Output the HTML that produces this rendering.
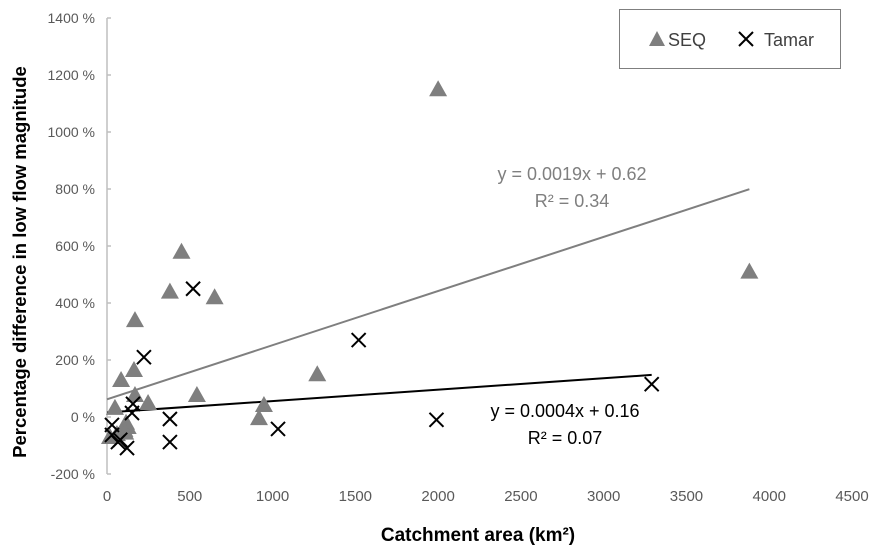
<!DOCTYPE html>
<html><head><meta charset="utf-8"><style>
body{margin:0;background:#fff;}
svg text{font-family:"Liberation Sans",sans-serif;}
</style></head><body>
<svg id="c" width="879" height="553" xmlns="http://www.w3.org/2000/svg"></svg>
<script>
const xTicks=[0,500,1000,1500,2000,2500,3000,3500,4000,4500];
const yTicks=[-200,0,200,400,600,800,1000,1200,1400];
const seqX=[2000,3880,450,380,650,169,163,85,169,248,543,948,918,48,115,125,105,110,18,60,1270];
const seqY=[1150,510,580,440,420,340,165,130,77,49,77,42,-4,32,-20,-35,-45,-55,-70,-60,150];
const tamX=[223,380,380,1033,157,151,30,30,66,121,520,1520,1990,3290,80];
const tamY=[210,-7,-88,-42,46,14,-28,-63,-88,-109,450,270,-10,115,-80];
const seqFit=[0.19,62,0,3880];
const tamFit=[0.04,16,0,3290];
const X=v=>107+v*0.16556, Y=v=>417-v*0.285;
const svg=document.getElementById('c'),NS='http://www.w3.org/2000/svg';
function mk(t,a,txt){const e=document.createElementNS(NS,t);for(const k in a)e.setAttribute(k,a[k]);if(txt!=null)e.textContent=txt;svg.appendChild(e);return e;}
let e=mk('line',{x1:107,y1:Y(1400),x2:107,y2:Y(-200),stroke:'#bfbfbf','stroke-width':1.5});


yTicks.forEach(v=>{
 let t=mk('line',{x1:107,y1:Y(v),x2:111,y2:Y(v),stroke:'#bfbfbf','stroke-width':1.5});
 
 
 let l=mk('text',{x:95,y:Y(v)+5,'text-anchor':'end','font-size':14,fill:'#595959'},v+' %');
 
 
});
xTicks.forEach(v=>{
 let l=mk('text',{x:X(v),y:501,'text-anchor':'middle','font-size':15,fill:'#595959'},String(v));
 
 
});
function fit(f,col,name){let l=mk('line',{x1:X(f[2]),y1:Y(f[1]+f[0]*f[2]),x2:X(f[3]),y2:Y(f[1]+f[0]*f[3]),stroke:col,'stroke-width':2});
 
 }
fit(seqFit,'#7f7f7f','seq-trendline');
fit(tamFit,'#000','tamar-trendline');
seqX.forEach((v,i)=>{const x=X(v),y=Y(seqY[i]);
 let p=mk('polygon',{points:`${x},${y-9} ${x-9},${y+7} ${x+9},${y+7}`,fill:'#7f7f7f'});
 
 });
tamX.forEach((v,i)=>{const x=X(v),y=Y(tamY[i]);
 let p=mk('path',{d:`M${x-7},${y-7}L${x+7},${y+7}M${x+7},${y-7}L${x-7},${y+7}`,stroke:'#000','stroke-width':2,fill:'none'});
 
 });
</script>
<svg style="position:absolute;left:0;top:0" width="879" height="553">
<g>
<rect x="619.5" y="9.5" width="221" height="59" fill="#fff" stroke="#7f7f7f"/>
<polygon points="657,31 649,46 665,46" fill="#7f7f7f"/>
<text x="668" y="46" font-size="18" fill="#404040">SEQ</text>
<path d="M739,32L753,46M753,32L739,46" stroke="#000" stroke-width="2"/>
<text x="764" y="46" font-size="18" fill="#404040">Tamar</text>
</g>
<text x="572" y="180" text-anchor="middle" font-size="18" fill="#7f7f7f">y = 0.0019x + 0.62</text>
<text x="572" y="207" text-anchor="middle" font-size="18" fill="#7f7f7f">R² = 0.34</text>
<text x="565" y="417" text-anchor="middle" font-size="18" fill="#000">y = 0.0004x + 0.16</text>
<text x="565" y="444" text-anchor="middle" font-size="18" fill="#000">R² = 0.07</text>
<text x="478" y="541" text-anchor="middle" font-size="19" font-weight="bold" fill="#000">Catchment area (km²)</text>
<text transform="translate(26,262) rotate(-90)" text-anchor="middle" font-size="18.5" font-weight="bold" fill="#000">Percentage difference in low flow magnitude</text>
</svg>
</body></html>
